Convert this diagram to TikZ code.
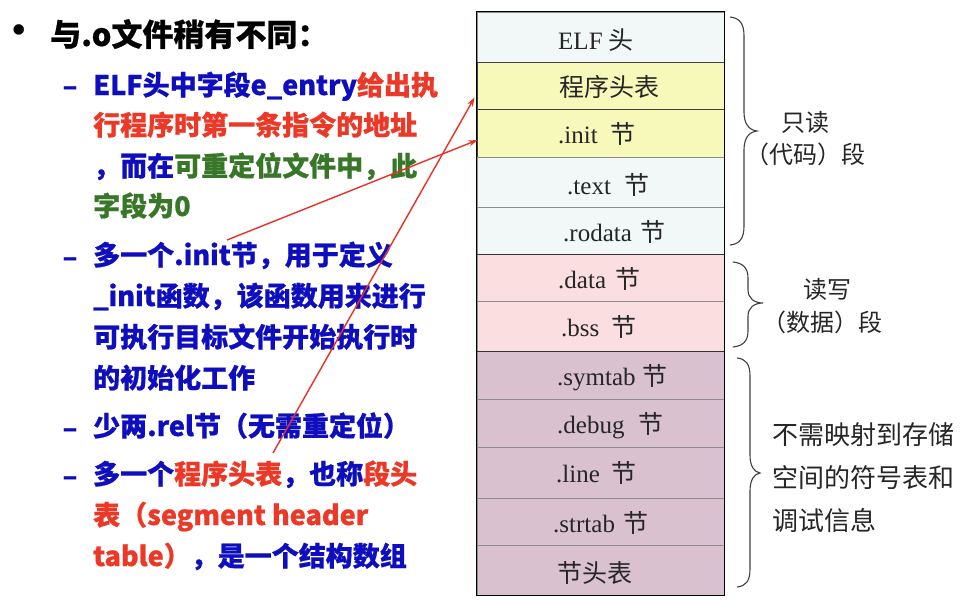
\documentclass[tikz,border=0pt]{standalone}
\usepackage{fontspec}
\setmainfont{Liberation Serif}
\newfontfamily\cjk{Noto Sans CJK SC}[BoldFeatures={FakeBold=0.7}]
\usetikzlibrary{arrows.meta,calc}
\definecolor{tblue}{RGB}{14,14,190}
\definecolor{tred}{RGB}{236,56,38}
\definecolor{tgreen}{RGB}{56,118,40}
\definecolor{rowblue}{RGB}{242,248,248}
\definecolor{rowyel}{RGB}{247,249,187}
\definecolor{rowpink}{RGB}{250,222,224}
\definecolor{rowmauve}{RGB}{217,193,208}
\definecolor{arrowred}{RGB}{232,48,36}
\begin{document}
\begin{tikzpicture}[x=1pt,y=-1pt,
  row/.style={rectangle, draw=black!45, line width=0.9pt, minimum width=247pt, inner sep=0pt},
  lbl/.style={anchor=west, inner sep=0pt, font=\fontsize{25}{25}\selectfont, text=black!85},
  note/.style={anchor=west, inner sep=0pt, font=\cjk\fontsize{24}{24}\selectfont, text=black!85},
  bignote/.style={anchor=west, inner sep=0pt, font=\cjk\fontsize{26}{26}\selectfont, text=black!85},
  ln/.style={anchor=base west, inner sep=0pt, font=\cjk\bfseries\fontsize{27}{27}\selectfont},
  ddash/.style={inner sep=0pt, font=\cjk\bfseries\fontsize{27}{27}\selectfont, text=tblue},
  ptr/.style={draw=arrowred, line width=1.4pt, -{Stealth[length=9pt,width=6pt]}},
  brc/.style={draw=black!75, line width=1.1pt}
]
\useasboundingbox (0,0) rectangle (964,608);
\fill[white] (0,0) rectangle (964,608);

% ---- table rows
\node[row, fill=rowblue,  minimum height=50pt] (elf)    at (600.5,37)    {};
\node[row, fill=rowyel,   minimum height=47pt, draw=black!75] (pht) at (600.5,85.5) {};
\node[row, fill=rowyel,   minimum height=48pt, draw=black!75] (init) at (600.5,133) {};
\node[row, fill=rowblue,  minimum height=50pt] (text)   at (600.5,182)   {};
\node[row, fill=rowblue,  minimum height=47pt] (rodata) at (600.5,230.5) {};
\node[row, fill=rowpink,  minimum height=47pt] (data)   at (600.5,277.5) {};
\node[row, fill=rowpink,  minimum height=50pt] (bss)    at (600.5,326)   {};
\node[row, fill=rowmauve, minimum height=48pt] (symtab) at (600.5,375)   {};
\node[row, fill=rowmauve, minimum height=48pt] (debug)  at (600.5,423)   {};
\node[row, fill=rowmauve, minimum height=51pt] (line)   at (600.5,472.5) {};
\node[row, fill=rowmauve, minimum height=47pt] (strtab) at (600.5,521.5) {};
\node[row, fill=rowmauve, minimum height=50pt] (shdr)   at (600.5,570)   {};
\draw[line width=1.2pt, black!80] (rodata.south west) -- (rodata.south east);
\draw[line width=1.2pt, black!80] (bss.south west) -- (bss.south east);
\draw[line width=1.6pt] (elf.north west) rectangle (shdr.south east);

% ---- row labels
\node[lbl] at (558,40)  {ELF {\cjk 头}};
\node[lbl] at (559,87)  {\cjk 程序头表};
\node[lbl] at (558,134) {.init\hspace{13pt}{\cjk 节}};
\node[lbl] at (567,185) {.text\hspace{14pt}{\cjk 节}};
\node[lbl] at (563,232) {.rodata\hspace{9pt}{\cjk 节}};
\node[lbl] at (558,279) {.data\hspace{9pt}{\cjk 节}};
\node[lbl] at (561,327) {.bss\hspace{12pt}{\cjk 节}};
\node[lbl] at (557,378) {.symtab\hspace{7pt}{\cjk 节}};
\node[lbl] at (557,426) {.debug\hspace{14pt}{\cjk 节}};
\node[lbl] at (556,473) {.line\hspace{12pt}{\cjk 节}};
\node[lbl] at (553,523) {.strtab\hspace{9pt}{\cjk 节}};
\node[lbl] at (557,573) {\cjk 节头表};

% ---- braces
\draw[brc] (730,17) .. controls (740,18) and (744,24) .. (744,36) -- (744,112)
  .. controls (744,124) and (749,130) .. (757,131)
  .. controls (749,132) and (744,138) .. (744,150) -- (744,226)
  .. controls (744,238) and (740,244) .. (730,245);
\draw[brc] (733,262) .. controls (743,263) and (748,268) .. (748,278) -- (748,290)
  .. controls (748,298) and (754,303) .. (763,303)
  .. controls (754,303) and (748,308) .. (748,316) -- (748,331)
  .. controls (748,341) and (743,346) .. (733,347);
\draw[brc] (737,358) .. controls (746,359) and (750,364) .. (750,376) -- (750,455)
  .. controls (750,466) and (754,472) .. (760,473)
  .. controls (754,474) and (750,480) .. (750,491) -- (750,569)
  .. controls (750,581) and (746,586) .. (737,587);

% ---- notes
\node[note] (n1a) at (781,122) {只读};
\node[note] (n1b) at (745,154) {（代码）段};
\node[note] (n2a) at (803,289) {读写};
\node[note] (n2b) at (762,322) {（数据）段};
\node[bignote] (n3a) at (772,435) {不需映射到存储};
\node[bignote] (n3b) at (772,478) {空间的符号表和};
\node[bignote] (n3c) at (772,521) {调试信息};

% ---- left text
\node[inner sep=0pt, font=\fontsize{44}{44}\selectfont] (bul) at (19,35) {•};
\node[ln, font=\cjk\bfseries\fontsize{31}{31}\selectfont] (t0) at (50,46) {与.o文件稍有不同：};

\node[ddash] (d1) at (70,91)  {–};
\node[ddash] (d2) at (70,262) {–};
\node[ddash] (d3) at (70,433) {–};
\node[ddash] (d4) at (70,481) {–};

\node[ln] (l1)  at (93,95)  {{\color{tblue}ELF头中字段e\_entry}{\color{tred}给出执}};
\node[ln] (l2)  at (93,135) {{\color{tred}行程序时第一条指令的地址}};
\node[ln] (l3)  at (93,176) {{\color{tblue}，而在}{\color{tgreen}可重定位文件中，此}};
\node[ln] (l4)  at (93,216) {{\color{tgreen}字段为0}};
\node[ln] (l5)  at (93,265) {{\color{tblue}多一个.init节，用于定义}};
\node[ln] (l6)  at (93,306) {{\color{tblue}\_init函数，该函数用来进行}};
\node[ln] (l7)  at (93,347) {{\color{tblue}可执行目标文件开始执行时}};
\node[ln] (l8)  at (93,388) {{\color{tblue}的初始化工作}};
\node[ln] (l9)  at (93,436) {{\color{tblue}少两.rel节（无需重定位）}};
\node[ln] (l10) at (93,484) {{\color{tblue}多一个}{\color{tred}程序头表}{\color{tblue}，也称}{\color{tred}段头}};
\node[ln] (l11) at (93,525) {{\color{tred}表（segment header}};
\node[ln] (l12) at (93,566) {{\color{tred}table）}{\color{tblue}，是一个结构数组}};

% ---- arrows
\coordinate (a1s) at (227,240);
\coordinate (a2s) at (273,453);
\draw[ptr] (a1s) -- ($(init.west)+(1,7)$);
\draw[ptr] (a2s) -- ($(pht.west)+(-2,12)$);
\end{tikzpicture}
\end{document}
